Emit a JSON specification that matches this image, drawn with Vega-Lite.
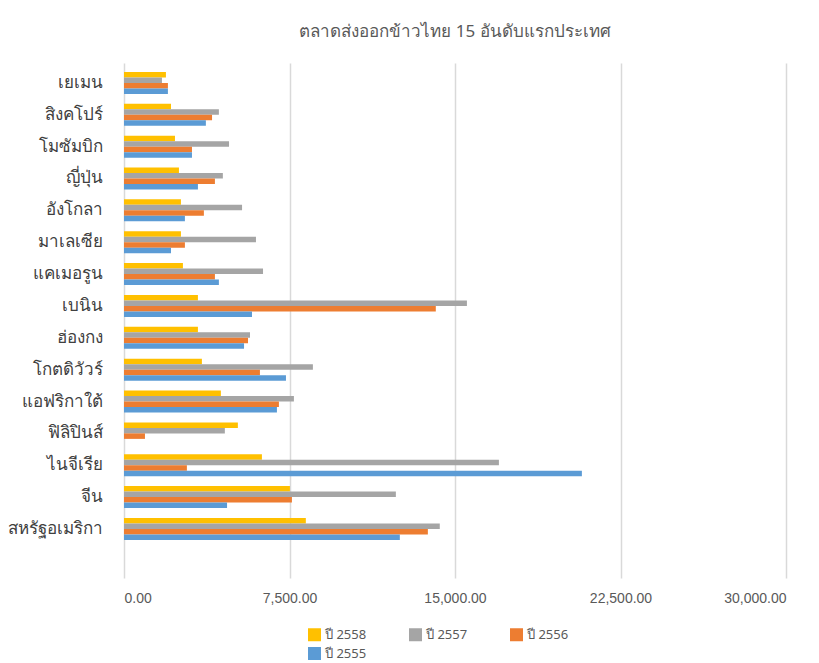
{
  "$schema": "https://vega.github.io/schema/vega-lite/v6.json",
  "width": 662,
  "height": 515,
  "autosize": {"type": "none"},
  "padding": {"left": 124, "top": 63, "right": 33, "bottom": 85},
  "background": "white",
  "config": {
    "view": {"stroke": null},
    "font": "Liberation Sans"
  },
  "title": {
    "text": "ตลาดส่งออกข้าวไทย 15 อันดับแรกประเทศ",
    "fontSize": 17,
    "fontWeight": "normal",
    "color": "#595959",
    "font": "Noto Sans",
    "anchor": "middle",
    "offset": 22
  },
  "data": {
    "values": [
      {"country": "เยเมน", "year": "ปี 2558", "value": 1900},
      {"country": "เยเมน", "year": "ปี 2557", "value": 1720},
      {"country": "เยเมน", "year": "ปี 2556", "value": 1990},
      {"country": "เยเมน", "year": "ปี 2555", "value": 1990},
      {"country": "สิงคโปร์", "year": "ปี 2558", "value": 2130},
      {"country": "สิงคโปร์", "year": "ปี 2557", "value": 4300},
      {"country": "สิงคโปร์", "year": "ปี 2556", "value": 3990},
      {"country": "สิงคโปร์", "year": "ปี 2555", "value": 3710},
      {"country": "โมซัมบิก", "year": "ปี 2558", "value": 2310},
      {"country": "โมซัมบิก", "year": "ปี 2557", "value": 4760},
      {"country": "โมซัมบิก", "year": "ปี 2556", "value": 3080},
      {"country": "โมซัมบิก", "year": "ปี 2555", "value": 3080},
      {"country": "ญี่ปุ่น", "year": "ปี 2558", "value": 2490},
      {"country": "ญี่ปุ่น", "year": "ปี 2557", "value": 4480},
      {"country": "ญี่ปุ่น", "year": "ปี 2556", "value": 4120},
      {"country": "ญี่ปุ่น", "year": "ปี 2555", "value": 3350},
      {"country": "อังโกลา", "year": "ปี 2558", "value": 2580},
      {"country": "อังโกลา", "year": "ปี 2557", "value": 5350},
      {"country": "อังโกลา", "year": "ปี 2556", "value": 3620},
      {"country": "อังโกลา", "year": "ปี 2555", "value": 2760},
      {"country": "มาเลเซีย", "year": "ปี 2558", "value": 2580},
      {"country": "มาเลเซีย", "year": "ปี 2557", "value": 5980},
      {"country": "มาเลเซีย", "year": "ปี 2556", "value": 2760},
      {"country": "มาเลเซีย", "year": "ปี 2555", "value": 2130},
      {"country": "แคเมอรูน", "year": "ปี 2558", "value": 2670},
      {"country": "แคเมอรูน", "year": "ปี 2557", "value": 6300},
      {"country": "แคเมอรูน", "year": "ปี 2556", "value": 4120},
      {"country": "แคเมอรูน", "year": "ปี 2555", "value": 4300},
      {"country": "เบนิน", "year": "ปี 2558", "value": 3350},
      {"country": "เบนิน", "year": "ปี 2557", "value": 15540},
      {"country": "เบนิน", "year": "ปี 2556", "value": 14130},
      {"country": "เบนิน", "year": "ปี 2555", "value": 5800},
      {"country": "ฮ่องกง", "year": "ปี 2558", "value": 3350},
      {"country": "ฮ่องกง", "year": "ปี 2557", "value": 5710},
      {"country": "ฮ่องกง", "year": "ปี 2556", "value": 5620},
      {"country": "ฮ่องกง", "year": "ปี 2555", "value": 5440},
      {"country": "โกตดิวัวร์", "year": "ปี 2558", "value": 3530},
      {"country": "โกตดิวัวร์", "year": "ปี 2557", "value": 8560},
      {"country": "โกตดิวัวร์", "year": "ปี 2556", "value": 6160},
      {"country": "โกตดิวัวร์", "year": "ปี 2555", "value": 7340},
      {"country": "แอฟริกาใต้", "year": "ปี 2558", "value": 4390},
      {"country": "แอฟริกาใต้", "year": "ปี 2557", "value": 7700},
      {"country": "แอฟริกาใต้", "year": "ปี 2556", "value": 7020},
      {"country": "แอฟริกาใต้", "year": "ปี 2555", "value": 6930},
      {"country": "ฟิลิปินส์", "year": "ปี 2558", "value": 5160},
      {"country": "ฟิลิปินส์", "year": "ปี 2557", "value": 4570},
      {"country": "ฟิลิปินส์", "year": "ปี 2556", "value": 950},
      {"country": "ฟิลิปินส์", "year": "ปี 2555", "value": 0},
      {"country": "ไนจีเรีย", "year": "ปี 2558", "value": 6250},
      {"country": "ไนจีเรีย", "year": "ปี 2557", "value": 16990},
      {"country": "ไนจีเรีย", "year": "ปี 2556", "value": 2850},
      {"country": "ไนจีเรีย", "year": "ปี 2555", "value": 20750},
      {"country": "จีน", "year": "ปี 2558", "value": 7520},
      {"country": "จีน", "year": "ปี 2557", "value": 12320},
      {"country": "จีน", "year": "ปี 2556", "value": 7610},
      {"country": "จีน", "year": "ปี 2555", "value": 4670},
      {"country": "สหรัฐอเมริกา", "year": "ปี 2558", "value": 8240},
      {"country": "สหรัฐอเมริกา", "year": "ปี 2557", "value": 14310},
      {"country": "สหรัฐอเมริกา", "year": "ปี 2556", "value": 13770},
      {"country": "สหรัฐอเมริกา", "year": "ปี 2555", "value": 12500}
    ]
  },
  "mark": {"type": "bar"},
  "encoding": {
    "y": {
      "field": "country",
      "type": "nominal",
      "sort": ["เยเมน", "สิงคโปร์", "โมซัมบิก", "ญี่ปุ่น", "อังโกลา", "มาเลเซีย", "แคเมอรูน", "เบนิน", "ฮ่องกง", "โกตดิวัวร์", "แอฟริกาใต้", "ฟิลิปินส์", "ไนจีเรีย", "จีน", "สหรัฐอเมริกา"],
      "scale": {"paddingInner": 0.31, "paddingOuter": 0.737, "align": 0.19},
      "axis": {
        "title": null,
        "domain": false,
        "ticks": false,
        "grid": false,
        "labelFontSize": 17,
        "labelColor": "#404040",
        "labelPadding": 22,
        "labelFont": "Noto Sans"
      }
    },
    "yOffset": {
      "field": "year",
      "type": "nominal",
      "sort": ["ปี 2558", "ปี 2557", "ปี 2556", "ปี 2555"],
      "scale": {"paddingInner": 0, "paddingOuter": 0}
    },
    "x": {
      "field": "value",
      "type": "quantitative",
      "scale": {"domain": [0, 30000], "nice": false},
      "axis": {
        "title": null,
        "values": [0, 7500, 15000, 22500, 30000],
        "format": ",.2f",
        "domain": false,
        "ticks": false,
        "grid": true,
        "gridColor": "#d9d9d9",
        "gridWidth": 1.5,
        "labelFontSize": 14,
        "labelColor": "#595959",
        "labelPadding": 13,
        "labelFont": "Liberation Sans"
      }
    },
    "color": {
      "field": "year",
      "type": "nominal",
      "scale": {
        "domain": ["ปี 2558", "ปี 2557", "ปี 2556", "ปี 2555"],
        "range": ["#FFC000", "#A5A5A5", "#ED7D31", "#5B9BD5"]
      },
      "legend": {
        "title": null,
        "orient": "none",
        "legendX": 184,
        "legendY": 565,
        "columns": 3,
        "direction": "horizontal",
        "symbolType": "square",
        "symbolSize": 169,
        "symbolStrokeWidth": 0,
        "labelFontSize": 13,
        "labelColor": "#595959",
        "labelFont": "Noto Sans",
        "columnPadding": 42,
        "rowPadding": 5,
        "labelExpr": "datum.value == 'ปี 2555' ? '\u00a0\u00a0\u00a0ปี 2555' : datum.value"
      }
    }
  }
}
